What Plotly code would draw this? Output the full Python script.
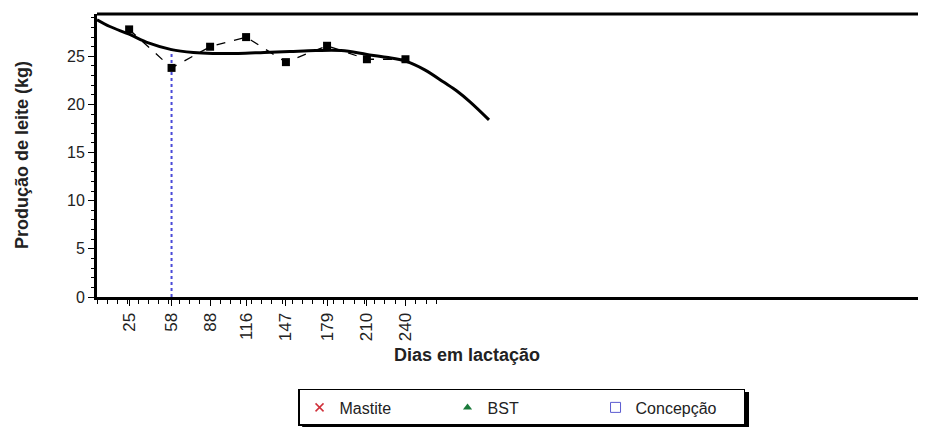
import plotly.graph_objects as go

# dias de controle e produção observada (kg)
dias = [25, 58, 88, 116, 147, 179, 210, 240]
producao = [27.8, 23.8, 26.0, 27.0, 24.4, 26.1, 24.7, 24.7]

# curva ajustada
dias_curva = [0, 10, 25, 40, 58, 75, 90, 110, 130, 150, 170, 190, 210, 225, 240, 255, 270, 280, 290, 305]
prod_curva = [28.8, 28.1, 27.3, 26.4, 25.7, 25.4, 25.3, 25.3, 25.4, 25.5, 25.6, 25.6, 25.2, 24.9,
              24.5, 23.6, 22.3, 21.4, 20.3, 18.4]

dia_concepcao = 58
prod_concepcao = 25.8

fig = go.Figure()

fig.add_trace(go.Scatter(x=[dia_concepcao, dia_concepcao], y=[0, prod_concepcao], mode='lines',
                         line=dict(color='#4a4ad8', width=2, dash='dot'), showlegend=False))
fig.add_trace(go.Scatter(x=dias_curva, y=prod_curva, mode='lines', line=dict(color='black', width=3, shape='spline'),
                         showlegend=False))
fig.add_trace(go.Scatter(x=dias, y=producao, mode='lines+markers',
                         line=dict(color='black', width=1.3, dash='dash'),
                         marker=dict(symbol='square', size=8, color='black'), showlegend=False))

# itens só de legenda
fig.add_trace(go.Scatter(x=[None], y=[None], mode='markers', name='Mastite',
                         marker=dict(symbol='x-thin', size=8, line=dict(color='#d0303a', width=1.5))))
fig.add_trace(go.Scatter(x=[None], y=[None], mode='markers', name='BST',
                         marker=dict(symbol='triangle-up', size=8, color='#1a7a3a')))
fig.add_trace(go.Scatter(x=[None], y=[None], mode='markers', name='Concepção',
                         marker=dict(symbol='square-open', size=10, color='#5a5ad0', line=dict(width=1))))

# a página tem margem de 8px no body, por isso a figura é um pouco menor
fig.update_layout(
    width=918, height=419,
    margin=dict(l=89, r=0, t=6, b=130, autoexpand=False),
    paper_bgcolor='white', plot_bgcolor='white',
    font=dict(family='Arial, Liberation Sans', size=16, color='#222'),
    showlegend=True,
    legend=dict(orientation='h', x=0.2425, y=-0.325, xanchor='left', yanchor='top',
                bordercolor='black', borderwidth=1.5, bgcolor='white',
                entrywidth=103, entrywidthmode='pixels', font=dict(size=16)),
    # sombra da legenda
    shapes=[dict(type='rect', xref='paper', yref='paper', x0=0.2475, x1=0.7865, y0=-0.4625, y1=-0.336,
                 fillcolor='black', line=dict(width=0), layer='below')],
    annotations=[
        dict(text='<b>Dias em lactação</b>', x=0.446, y=-0.205, xref='paper', yref='paper',
             xanchor='center', yanchor='middle', showarrow=False, font=dict(size=18)),
        dict(text='<b>Produção de leite (kg)</b>', x=-0.091, y=0.5, xref='paper', yref='paper',
             xanchor='center', yanchor='middle', showarrow=False, textangle=-90, font=dict(size=18)),
    ],
)

fig.update_xaxes(range=[0, 645], tickmode='array', tickvals=dias, tickangle=-90, automargin=False,
                 tickfont=dict(size=17),
                 ticks='outside', ticklen=6, tickwidth=1, tickcolor='black',
                 showline=True, linewidth=3, linecolor='black', mirror=False,
                 showgrid=False, zeroline=False,
                 minor=dict(tickmode='array', tickvals=list(range(0, 270, 8)), ticks='outside', ticklen=4,
                            tickcolor='black', showgrid=False))
fig.update_yaxes(range=[0, 29.4], tickvals=[0, 5, 10, 15, 20, 25], automargin=False,
                 ticks='outside', ticklen=6, tickwidth=1, tickcolor='black',
                 showline=True, linewidth=3, linecolor='black',
                 showgrid=False, zeroline=False,
                 minor=dict(dtick=1, ticks='outside', ticklen=3, tickcolor='black', showgrid=False))

# linha superior do quadro
fig.add_shape(type='line', xref='paper', yref='paper', x0=0, x1=1, y0=1, y1=1,
              line=dict(color='black', width=3))

fig.write_html('out.html')
